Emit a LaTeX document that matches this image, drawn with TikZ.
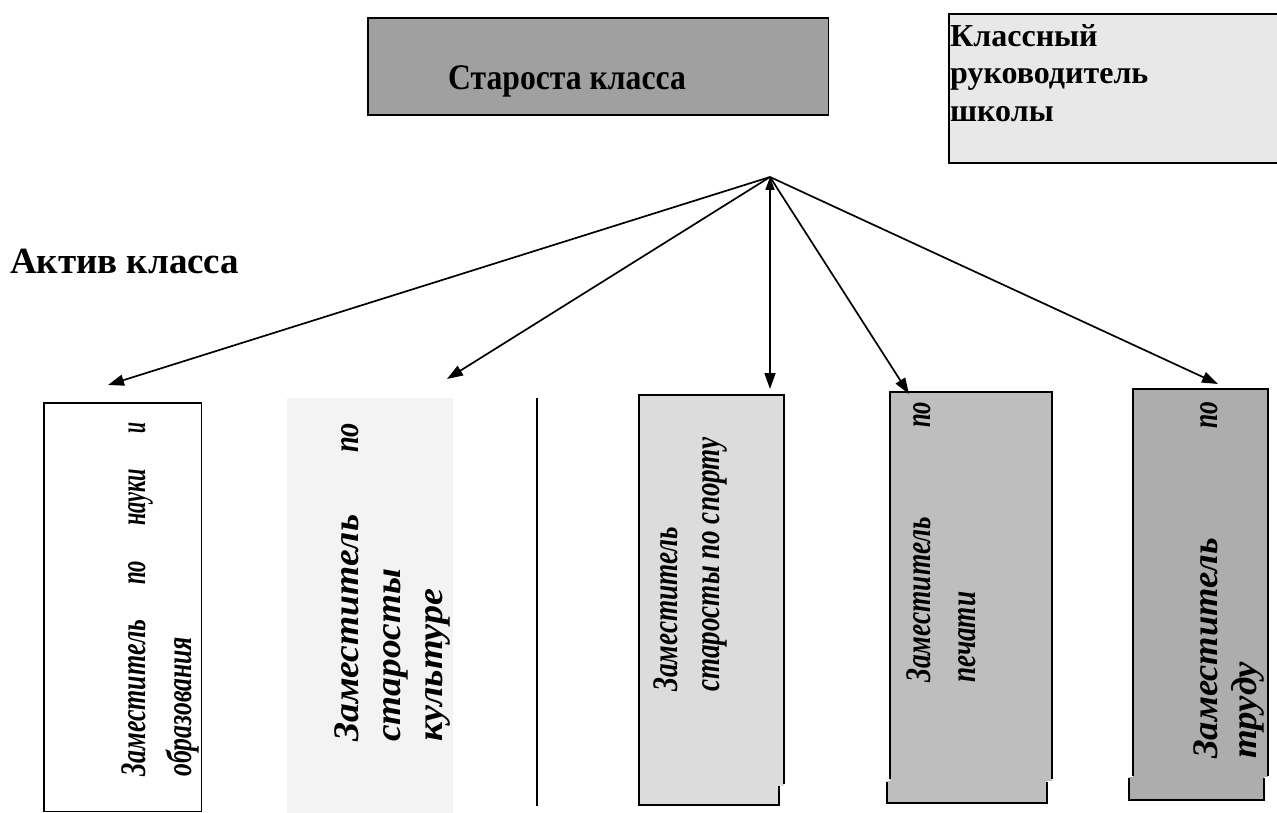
\documentclass[tikz,border=0pt]{standalone}
\usepackage{fontspec}
\usepackage{graphicx}
\setmainfont{Liberation Serif}
\newfontfamily\condT[FakeStretch=0.88]{Liberation Serif}
\usetikzlibrary{arrows.meta}
\newcommand{\fitw}[2]{\resizebox{#1pt}{\height}{#2}}
\definecolor{cStar}{HTML}{A0A0A0}
\definecolor{cKlass}{HTML}{E8E8E8}
\definecolor{cTwo}{HTML}{F3F3F3}
\definecolor{cThree}{HTML}{DCDCDC}
\definecolor{cFour}{HTML}{BEBEBE}
\definecolor{cFive}{HTML}{ADADAD}
\begin{document}
\begin{tikzpicture}[x=1pt,y=-1pt,
  edge/.style={line width=1.8pt, draw=black, line cap=rect},
  link/.style={line width=1.7pt, -{Triangle[length=16pt,width=11pt]}},
  panel/.style={anchor=north west, inner sep=0pt, draw=none, rectangle},
  rotT/.style={rotate=90, anchor=base west, inner sep=0pt, font=\bfseries\itshape\fontsize{36}{36}\selectfont}]
\useasboundingbox (0,0) rectangle (1277,813);

% top boxes
\node[panel, fill=cStar, minimum width=460pt, minimum height=97pt] (star) at (368,18) {};
\draw[edge] (star.north west) rectangle (star.south east);
\node[anchor=base west, inner sep=0pt, font=\condT\bfseries\fontsize{36}{36}\selectfont] (startxt) at (448,90) {Староста класса};

\node[panel, fill=cKlass, minimum width=335pt, minimum height=149pt] (klass) at (949,14) {};
\draw[edge] (klass.north east) -- (klass.north west) -- (klass.south west) -- (klass.south east);
\node[anchor=base west, inner sep=0pt, font=\bfseries\fontsize{32}{32}\selectfont] (kl1) at (950,47) {Классный};
\node[anchor=base west, inner sep=0pt, font=\bfseries\fontsize{32}{32}\selectfont] (kl2) at (950,84) {руководитель};
\node[anchor=base west, inner sep=0pt, font=\bfseries\fontsize{32}{32}\selectfont] (kl3) at (950,122) {школы};

\node[anchor=base west, inner sep=0pt, font=\bfseries\fontsize{37}{37}\selectfont] (aktiv) at (10,273) {Актив класса};

% box 1
\node[panel, fill=white, minimum width=157pt, minimum height=408pt] (b1) at (44,403) {};
\draw[edge] (b1.north west) rectangle (b1.south east);
\node[rotT] (b1a) at (145,777) {\makebox[354pt][s]{\fitw{157}{Заместитель} \fitw{24}{по} \fitw{57}{науки} \fitw{11}{и}}};
\node[rotT] (b1b) at (191,777) {\fitw{140}{образования}};

% box 2
\node[panel, fill=cTwo, minimum width=166pt, minimum height=415pt] (b2) at (287,398) {};
\node[rotT] (b2a) at (358,742) {\makebox[319pt][s]{\fitw{227}{Заместитель} \fitw{30}{по}}};
\node[rotT] (b2b) at (400,742) {\fitw{173}{старосты}};
\node[rotT] (b2c) at (442,742) {\fitw{153}{культуре}};

% separator
\coordinate (sepT) at (537,398);
\coordinate (sepB) at (537,806);
\draw[line width=2pt] (sepT) -- (sepB);

% box 3
\node[panel, fill=cThree, minimum width=145pt, minimum height=391pt] (b3) at (639,395) {};
\node[panel, fill=cThree, minimum width=140pt, minimum height=19pt] (b3s) at (639,786) {};
\draw[edge] (639,805) -- (639,395) -- (784,395) -- (784,783);
\draw[edge] (639,805) -- (779,805) -- (779,787);
\node[rotT] (b3a) at (677,692) {\fitw{165}{Заместитель}};
\node[rotT] (b3b) at (719,692) {\fitw{254}{старосты по спорту}};

% box 4
\node[panel, fill=cFour, minimum width=162pt, minimum height=389pt] (b4) at (890,392) {};
\node[panel, fill=cFour, minimum width=160pt, minimum height=22pt] (b4s) at (887,781) {};
\draw[edge] (890,778) -- (890,392) -- (1052,392) -- (1052,778);
\draw[edge] (887,783) -- (887,803) -- (1047,803) -- (1047,783);
\node[rotT] (b4a) at (930,683) {\makebox[281pt][s]{\fitw{166}{Заместитель} \fitw{26}{по}}};
\node[rotT] (b4b) at (975,683) {\fitw{91}{печати}};

% box 5
\node[panel, fill=cFive, minimum width=135pt, minimum height=388pt] (b5) at (1133,389) {};
\node[panel, fill=cFive, minimum width=135pt, minimum height=23pt] (b5s) at (1129,777) {};
\draw[edge] (1133,775) -- (1133,389) -- (1268,389) -- (1268,775);
\draw[edge] (1129,779) -- (1129,800) -- (1264,800) -- (1264,779);
\node[rotT] (b5a) at (1217,759) {\makebox[357pt][s]{\fitw{221}{Заместитель} \fitw{27}{по}}};
\node[rotT] (b5b) at (1256,759) {\fitw{97}{труду}};

% connectors
\coordinate (hub) at (770,177);
\coordinate (a1) at (108,385);
\coordinate (a2) at (447,379);
\coordinate (a3) at (770,389);
\coordinate (a4) at (909,394);
\coordinate (a5) at (1218,384);
\draw[link] (hub) -- (a1);
\draw[link] (hub) -- (a2);
\draw[line width=1.7pt, {Triangle[length=13pt,width=9pt]}-{Triangle[length=16pt,width=11pt]}] (hub) -- (a3);
\draw[link] (hub) -- (a4);
\draw[link] (hub) -- (a5);
\end{tikzpicture}
\end{document}
